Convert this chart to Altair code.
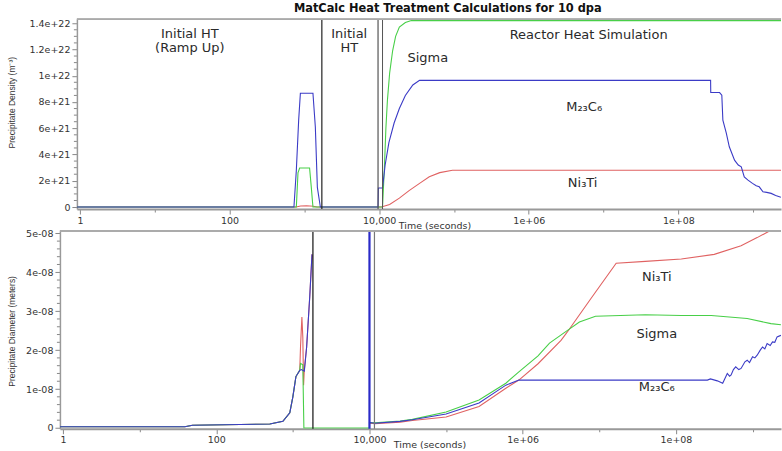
import altair as alt
import pandas as pd

# ---------------- data (log10 of time in seconds, value) ----------------
# Top panel: precipitate number density, in units of 1e21 m^-3
TOP_M23C6 = [(-0.04, 0), (2.861, 0), (2.893, 2.8), (2.924, 6.6), (2.947, 8.67), (3.115, 8.67),
             (3.147, 6.1), (3.174, 1.5), (3.214, 0), (3.985, 0), (3.99, 1.45), (4.045, 1.45),
             (4.08, 3.2), (4.13, 4.9), (4.2, 6.4), (4.27, 7.5), (4.35, 8.5), (4.45, 9.3), (4.54, 9.65),
             (8.43, 9.65), (8.432, 8.72), (8.55, 8.72), (8.58, 8.52), (8.594, 6.62), (8.64, 5.63),
             (8.68, 4.59), (8.75, 3.57), (8.8, 3.2), (8.84, 3.06), (8.88, 2.3), (8.93, 2.05),
             (8.99, 1.8), (9.04, 1.62), (9.08, 1.54), (9.13, 1.16), (9.18, 1.12), (9.24, 1.04),
             (9.3, 0.88), (9.37, 0.74)]
TOP_SIGMA = [(-0.04, 0), (2.893, 0), (2.915, 2.6), (2.937, 2.97), (3.07, 2.97), (3.093, 1.5),
             (3.115, 0), (4.045, 0), (4.07, 3.0), (4.09, 6.0), (4.11, 8.1), (4.14, 10.2),
             (4.18, 11.9), (4.22, 13.0), (4.27, 13.7), (4.35, 14.05), (4.43, 14.2), (9.4, 14.2)]
TOP_NI3TI = [(-0.04, 0), (2.89, 0), (2.95, 0.08), (3.03, 0.1), (3.12, 0.06), (3.17, 0), (4.03, 0),
             (4.14, 0.2), (4.27, 0.68), (4.4, 1.25), (4.54, 1.8), (4.67, 2.3), (4.81, 2.62),
             (4.98, 2.8), (9.4, 2.8)]

# Bottom panel: precipitate mean diameter, in units of 1e-8 m
BOT_RAMP = [(-0.04, 0.03), (1.59, 0.03), (1.69, 0.07), (2.70, 0.1), (2.87, 0.17), (2.96, 0.39),
            (3.0, 0.8), (3.04, 1.32), (3.09, 1.48)]
BOT_M23C6_A = [(3.11, 1.5), (3.15, 1.46), (3.18, 2.08), (3.22, 3.36), (3.25, 4.46)]
BOT_M23C6_B = [(4.0, 0.14), (4.07, 0.12), (4.4, 0.17), (4.56, 0.21), (5.0, 0.36), (5.43, 0.64),
               (5.78, 1.1), (5.95, 1.23), (8.41, 1.23), (8.45, 1.26), (8.54, 1.21), (8.61, 1.15),
               (8.67, 1.40), (8.7, 1.33), (8.72, 1.36), (8.75, 1.5), (8.78, 1.57), (8.82, 1.5),
               (8.85, 1.53), (8.9, 1.7), (8.93, 1.74), (8.96, 1.68), (9.0, 1.83), (9.03, 1.8),
               (9.06, 1.87), (9.1, 2.0), (9.13, 2.08), (9.16, 2.03), (9.19, 2.17), (9.23, 2.12),
               (9.26, 2.21), (9.29, 2.2), (9.32, 2.34), (9.37, 2.38)]
BOT_NI3TI_A = [(3.10, 2.08), (3.118, 2.85), (3.13, 2.34), (3.14, 1.1), (3.15, 1.5), (3.18, 2.08),
               (3.22, 3.36), (3.25, 4.46)]
BOT_NI3TI_B = [(4.0, 0.12), (4.07, 0.11), (4.4, 0.15), (4.56, 0.19), (5.0, 0.28), (5.43, 0.55),
               (5.78, 1.02), (5.95, 1.23), (6.2, 1.65), (6.5, 2.25), (6.58, 2.46), (6.9, 3.35),
               (7.22, 4.23), (7.6, 4.28), (8.07, 4.34), (8.5, 4.46), (8.85, 4.68), (9.06, 4.89),
               (9.22, 5.06), (9.3, 5.3)]
BOT_SIGMA_A = [(3.10, 1.66), (3.13, 1.62), (3.144, 0), (4.0, 0), (4.0, 0.14), (4.07, 0.13),
               (4.4, 0.18), (4.56, 0.22), (5.0, 0.41), (5.43, 0.72), (5.78, 1.15), (5.95, 1.44),
               (6.2, 1.85), (6.35, 2.18), (6.58, 2.5), (6.74, 2.72), (6.95, 2.87), (7.6, 2.91),
               (8.07, 2.89), (8.46, 2.89), (8.93, 2.81), (9.24, 2.68), (9.37, 2.65)]

# Stage boundary markers (log10 seconds)
TOP_MARKERS = [3.234, 3.985, 4.045]
BOT_MARKERS = [3.262, 4.0, 4.065]

# Annotations: (text, log10 seconds, value)
TOP_LABELS = [("Initial HT", 1.47, 13.17), ("(Ramp Up)", 1.47, 12.1), ("Initial", 3.6, 13.17),
              ("HT", 3.6, 12.1), ("Reactor Heat Simulation", 6.8, 13.08), ("Sigma", 4.65, 11.33),
              ("M₂₃C₆", 6.74, 7.6), ("Ni₃Ti", 6.72, 1.83)]
BOT_LABELS = [("Ni₃Ti", 7.75, 3.89), ("Sigma", 7.75, 2.41), ("M₂₃C₆", 7.75, 1.05)]

# Axis tick values (labelled and minor)
TOP_Y_MAJOR = [0, 2e21, 4e21, 6e21, 8e21, 1e22, 1.2e22, 1.4e22]
TOP_Y_MINOR = [k * 0.5e21 for k in range(29) if k % 4 != 0]
BOT_Y_MAJOR = [0, 1e-8, 2e-8, 3e-8, 4e-8, 5e-8]
BOT_Y_MINOR = [k * 0.2e-8 for k in range(26) if k % 5 != 0]

SERIES = ["Ni3Ti", "Sigma", "M23C6"]
COLORS = ["#e06262", "#48cf48", "#3b3bc6"]

TOP_MARKER_COLORS = ["#222222", "#555555", "#555555"]
BOT_MARKER_COLORS = ["#111111", "#2a2ac8", "#777777"]
BOT_MARKER_WIDTHS = [1.2, 2.2, 1.2]
TOP_MARKER_WIDTHS = [1.2, 1.2, 1.0]


def rows(pairs, series, seg, scale):
    return [{"t": 10 ** lt, "v": v * scale, "series": series, "seg": seg, "i": k}
            for k, (lt, v) in enumerate(pairs)]


top_df = pd.DataFrame(rows(TOP_NI3TI, "Ni3Ti", "r", 1e21) + rows(TOP_SIGMA, "Sigma", "g", 1e21)
                      + rows(TOP_M23C6, "M23C6", "b", 1e21))
bot_df = pd.DataFrame(rows(BOT_RAMP + BOT_NI3TI_A, "Ni3Ti", "r1", 1e-8)
                      + rows(BOT_NI3TI_B, "Ni3Ti", "r2", 1e-8)
                      + rows(BOT_RAMP + BOT_SIGMA_A, "Sigma", "g1", 1e-8)
                      + rows(BOT_RAMP + BOT_M23C6_A, "M23C6", "b1", 1e-8)
                      + rows(BOT_M23C6_B, "M23C6", "b2", 1e-8))

top_rules = pd.DataFrame({"t": [10 ** x for x in TOP_MARKERS], "c": TOP_MARKER_COLORS,
                          "w": TOP_MARKER_WIDTHS})
bot_rules = pd.DataFrame({"t": [10 ** x for x in BOT_MARKERS], "c": BOT_MARKER_COLORS,
                          "w": BOT_MARKER_WIDTHS})
top_text = pd.DataFrame({"label": [a for a, _, _ in TOP_LABELS],
                         "t": [10 ** b for _, b, _ in TOP_LABELS],
                         "v": [c * 1e21 for _, _, c in TOP_LABELS]})
bot_text = pd.DataFrame({"label": [a for a, _, _ in BOT_LABELS],
                         "t": [10 ** b for _, b, _ in BOT_LABELS],
                         "v": [c * 1e-8 for _, _, c in BOT_LABELS]})

XDOMAIN = [0.912, 2.35e9]
XTICKS = [10.0 ** k for k in range(10)]
X_LABEL_EXPR = ("datum.value == 1 ? '1' : datum.value == 100 ? '100' : datum.value == 10000 ? '10,000'"
                " : datum.value == 1000000 ? '1e+06' : datum.value == 100000000 ? '1e+08' : ''")
X_MAJOR_TEST = "round(log(datum.value)/LN10) % 2 == 0"

LABEL_FONT = "DejaVu Sans"
YTITLE_FONT = "Liberation Sans Narrow, Liberation Sans, sans-serif"


def x_axis(title_x, title_y):
    return alt.Axis(values=XTICKS, labelExpr=X_LABEL_EXPR, labelOverlap=False, labelFlush=False,
                    labelBound=False,
                    tickSize={"condition": {"test": X_MAJOR_TEST, "value": 5}, "value": 3},
                    tickColor="#888", domainColor="#999", domainWidth=2, grid=False,
                    labelFont=LABEL_FONT, labelFontSize=9.5, labelColor="#333", labelPadding=1,
                    title="Time (seconds)", titleFont=LABEL_FONT, titleFontSize=9.5,
                    titleFontWeight="normal", titleColor="#333", titleX=title_x, titleY=title_y,
                    titleBaseline="middle", titleAlign="center")


def y_axis(title, values, label_expr, title_x, title_y):
    return alt.Axis(values=values, labelExpr=label_expr, labelOverlap=False, labelFlush=False,
                    labelBound=False,
                    tickSize=5, tickColor="#888", domainColor="#999", domainWidth=1.5, grid=False,
                    labelFont=LABEL_FONT, labelFontSize=9.5, labelColor="#333", labelPadding=2,
                    title=title, titleFont=YTITLE_FONT, titleFontSize=8.5, titleFontWeight="normal",
                    titleColor="#333", titleX=title_x, titleY=title_y, titleAngle=270,
                    titleBaseline="middle", titleAlign="center")


def panel(df, rules, texts, minor, width, height, ydomain, yax, xax, text_size):
    xs = alt.Scale(type="log", domain=XDOMAIN, nice=False)
    ys = alt.Scale(domain=ydomain, nice=False, zero=False)
    X = alt.X("t:Q", scale=xs, axis=xax)
    Y = alt.Y("v:Q", scale=ys, axis=yax)
    lines = alt.Chart(df).mark_line(strokeWidth=1.1, clip=True).encode(
        x=X, y=Y,
        color=alt.Color("series:N", scale=alt.Scale(domain=SERIES, range=COLORS), legend=None),
        detail="seg:N",
        order="i:Q",
    )
    rule_layer = alt.Chart(rules).mark_rule().encode(
        x=X,
        color=alt.Color("c:N", scale=None),
        strokeWidth=alt.StrokeWidth("w:Q", scale=None),
    )
    # minor ticks of the y axis
    minor_ticks = alt.Chart(pd.DataFrame({"v": minor})).mark_rule(color="#888", strokeWidth=1).encode(
        y=Y, x=alt.value(-3), x2=alt.value(0))
    frame = alt.Chart(rules).mark_rule(color="#aaa", strokeWidth=1.5).encode(
        x=alt.value(0), x2=alt.value(width), y=alt.value(0))
    text_layer = alt.Chart(texts).mark_text(font="DejaVu Sans", fontSize=text_size, color="#2a2a2a",
                                            align="center", baseline="middle").encode(
        x=X, y=Y, text="label:N")
    return alt.layer(lines, rule_layer, minor_ticks, frame, text_layer).properties(
        width=width, height=height)


top_yax = y_axis("Precipitate Density (m⁻³)", TOP_Y_MAJOR,
                 "datum.value == 0 ? '0' : format(datum.value, '~e')", -65, 83)
bot_yax = y_axis("Precipitate Diameter (meters)", BOT_Y_MAJOR,
                 "datum.value == 0 ? '0' : format(round(datum.value/1e-8), 'd') + 'e-08'", -48, 100)

top = panel(top_df, top_rules, top_text, TOP_Y_MINOR, 705, 190, [-0.15e21, 14.3e21], top_yax,
            x_axis(358, 17), 13)
bot = panel(bot_df, bot_rules, bot_text, BOT_Y_MINOR, 722, 198, [-0.02e-8, 5.06e-8], bot_yax,
            x_axis(370, 16), 13)

# an invisible 1px cell shifts the upper panel right of the lower one, as in the original layout
spacer = alt.Chart(pd.DataFrame({"a": [0]})).mark_point(opacity=0).encode(
    x=alt.value(0), y=alt.value(0)).properties(width=1, height=1)
top_row = alt.hconcat(spacer, top, spacing=16, bounds="flush")

chart = alt.vconcat(top_row, bot, spacing=-12).properties(
    title=alt.TitleParams("MatCalc Heat Treatment Calculations for 10 dpa", font="DejaVu Sans",
                          fontSize=11.4, fontWeight="bold", anchor="middle", dx=53, offset=2,
                          color="#111"),
    padding={"left": 8, "top": 2, "right": 0, "bottom": 0},
    background="white",
).configure_view(stroke=None)

chart.save("out.html", embed_options={"renderer": "svg", "actions": False})
